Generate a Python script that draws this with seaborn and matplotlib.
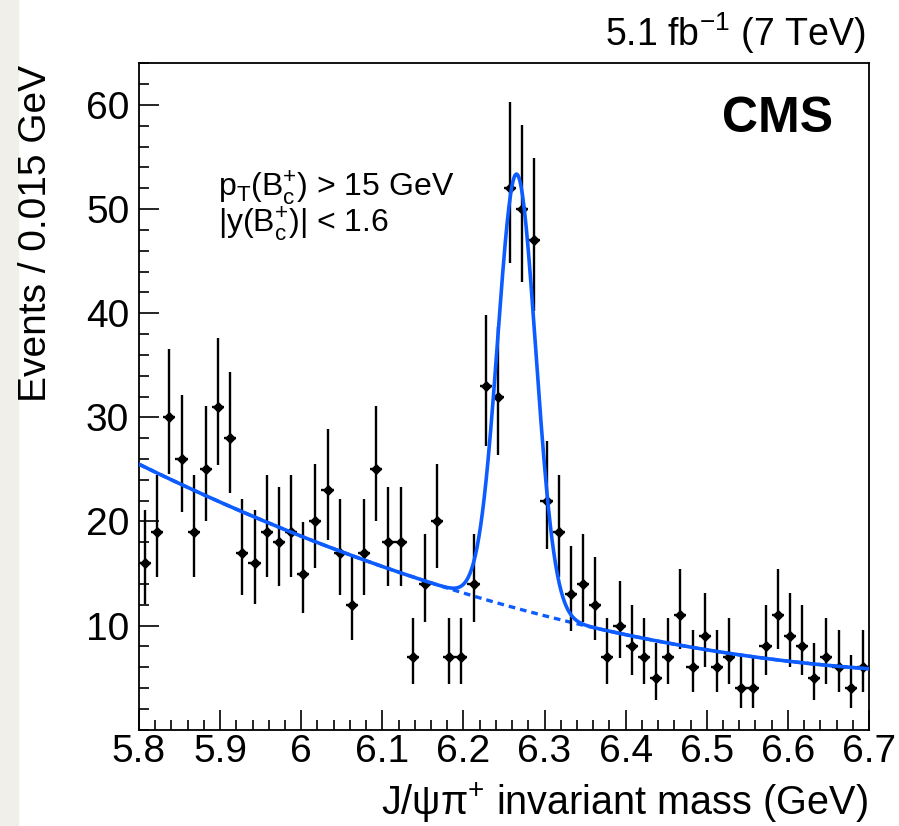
import numpy as np
import pandas as pd
import matplotlib
matplotlib.use("Agg")
import matplotlib.pyplot as plt
from matplotlib.ticker import MultipleLocator, FuncFormatter
from matplotlib.patches import Rectangle
import seaborn as sns

# 數據：每 0.015 GeV 一個 bin
bin_lo = 5.8
bin_width = 0.015
counts = [16, 19, 30, 26, 19, 25, 31, 28, 17, 16,
          19, 18, 19, 15, 20, 23, 17, 12, 17, 25,
          18, 18, 7, 14, 20, 7, 7, 14, 33, 32,
          52, 50, 47, 22, 19, 13, 14, 12, 7, 10,
          8, 7, 5, 7, 11, 6, 9, 6, 7, 4,
          4, 8, 11, 9, 8, 5, 7, 6, 4, 6]

# 擬合參數 (背景二次多項式 + 高斯訊號)
bg_a, bg_b, bg_c = 25.5, -38.2, 18.2
sig_amp, sig_mu, sig_sigma = 41.7, 6.2657, 0.0235

y_ticks = [10, 20, 30, 40, 50, 60]

sns.set_theme(style="white")
plt.rcParams["font.family"] = ["Liberation Sans", "DejaVu Sans"]
plt.rcParams["mathtext.fontset"] = "custom"
plt.rcParams["mathtext.rm"] = "Liberation Sans"
plt.rcParams["mathtext.default"] = "regular"
plt.rcParams["text.color"] = "black"

df = pd.DataFrame({"mass": bin_lo + bin_width * (np.arange(len(counts)) + 0.5),
                   "events": counts})
n = df["events"].to_numpy(dtype=float)
# Poisson (Garwood) 區間，Wilson-Hilferty 近似
lo = n * (1 - 1 / (9 * n) - 1 / (3 * np.sqrt(n))) ** 3
hi = (n + 1) * (1 - 1 / (9 * (n + 1)) + 1 / (3 * np.sqrt(n + 1))) ** 3

xs = np.linspace(5.8, 6.7, 800)
t = xs - bin_lo
bg = bg_a + bg_b * t + bg_c * t ** 2
total = bg + sig_amp * np.exp(-0.5 * ((xs - sig_mu) / sig_sigma) ** 2)

fig = plt.figure(figsize=(8.99, 8.26), dpi=100)
fig.patches.append(Rectangle((0, 0), 0.02, 1, transform=fig.transFigure,
                             color="#f0efea", zorder=-1))
ax = fig.add_axes([0.1546, 0.1165, 0.8120, 0.8069])

blue = "#0d5cff"
sns.lineplot(x=xs, y=bg, ax=ax, color=blue, lw=2.4, linestyle=(0, (2, 1.5)), zorder=3)
ax.errorbar(df["mass"], df["events"], yerr=[n - lo, hi - n], xerr=bin_width / 2,
            fmt="none", ecolor="black", elinewidth=1.7, capsize=0, zorder=4)
sns.scatterplot(data=df, x="mass", y="events", ax=ax, color="black", s=34,
                marker="D", edgecolor="black", linewidth=0, zorder=5)
sns.lineplot(x=xs, y=total, ax=ax, color=blue, lw=2.6, zorder=6)

ax.set_xlim(5.8, 6.7)
ax.set_ylim(0, 64)
ax.xaxis.set_major_locator(MultipleLocator(0.1))
ax.xaxis.set_minor_locator(MultipleLocator(0.02))
ax.xaxis.set_major_formatter(FuncFormatter(lambda v, p: "%g" % round(v, 2)))
ax.set_yticks(y_ticks)
ax.yaxis.set_minor_locator(MultipleLocator(2))
ax.tick_params(which="both", direction="in", top=False, right=False,
               bottom=True, left=True, width=1.2, colors="black", labelsize=28)
ax.tick_params(which="major", length=14.5)
ax.tick_params(which="minor", length=7.2)
ax.tick_params(axis="x", pad=3)
ax.tick_params(axis="y", pad=7)
for s in ax.spines.values():
    s.set_color("black")
    s.set_linewidth(1.3)
ax.set_xlabel("")
ax.set_ylabel("")

fig.text(0.040, 0.921, "Events / 0.015 GeV", rotation=90, ha="center", va="top", fontsize=28)
fig.text(0.9655, 0.0133, r"J/ψπ$^{+}$ invariant mass (GeV)", ha="right", va="baseline", fontsize=28.5)
fig.text(0.9622, 0.9443, r"5.1 fb$^{-1}$ (7 TeV)", ha="right", va="baseline", fontsize=27)
fig.text(0.9266, 0.8402, "CMS", ha="right", va="baseline", fontsize=36, fontweight="bold")
fig.text(0.2425, 0.7627, r"p$_{T}$(B$_{c}^{+}$) > 15 GeV", ha="left", va="baseline", fontsize=23)
fig.text(0.2425, 0.7195, r"|y(B$_{c}^{+}$)| < 1.6", ha="left", va="baseline", fontsize=23)

fig.savefig("out.png", dpi=100)
